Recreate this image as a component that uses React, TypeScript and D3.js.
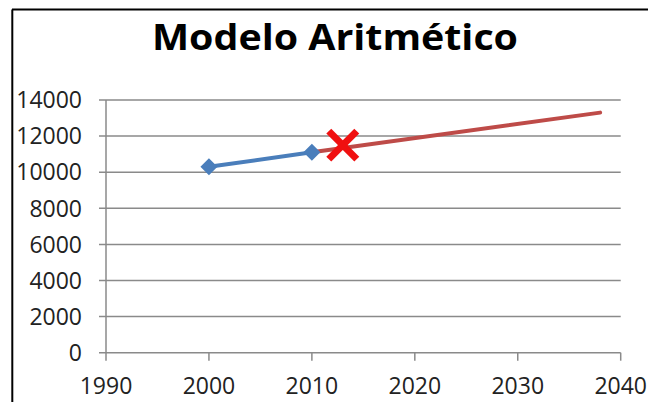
import React from "react";
import * as d3 from "d3";

const title = "Modelo Aritmético";
const xTicks = [1990, 2000, 2010, 2020, 2030, 2040];
const yTicks = [0, 2000, 4000, 6000, 8000, 10000, 12000, 14000];
const censusYears = [2000, 2010];
const censusValues = [10300, 11100];
const projYears = [2010, 2038];
const projValues = [11100, 13300];
const markYear = [2013];
const markValue = [11500];

export default function App() {
  const W = 648, H = 402;
  const x = d3.scaleLinear().domain([1990, 2040]).range([106, 620.7]);
  const y = d3.scaleLinear().domain([0, 14000]).range([352.7, 100]);
  const line = d3.line<[number, number]>().x(d => x(d[0])).y(d => y(d[1]));
  const census = censusYears.map((t, i) => [t, censusValues[i]] as [number, number]);
  const proj = projYears.map((t, i) => [t, projValues[i]] as [number, number]);
  const font = "'Open Sans', sans-serif";
  const grid = "#8a8a8a";
  return (
    <svg width={W} height={H} style={{ position: "absolute", left: 0, top: 0, background: "#fff" }}>
      <rect x={0} y={0} width={W} height={H} fill="#fff" />
      <line x1={12} y1={9.5} x2={W} y2={9.5} stroke="#000" strokeWidth={2} />
      <line x1={12.3} y1={9.5} x2={12.3} y2={H} stroke="#000" strokeWidth={2} />
      <text x={335} y={50} textAnchor="middle" fontFamily={font} fontWeight={700} fontSize={35}
        textLength={366} lengthAdjust="spacingAndGlyphs" fill="#000">{title}</text>
      {yTicks.map(v => (
        <g key={v}>
          <line x1={99} x2={x(2040)} y1={y(v)} y2={y(v)} stroke={grid} strokeWidth={1.5} />
          <text x={82} y={y(v)} dy="0.36em" textAnchor="end" fontFamily={font} fontSize={23} fill="#222">{v}</text>
        </g>
      ))}
      <line x1={x(1990)} x2={x(1990)} y1={y(14000)} y2={y(0)} stroke={grid} strokeWidth={1.5} />
      {xTicks.map(t => (
        <g key={t}>
          <line x1={x(t)} x2={x(t)} y1={y(0)} y2={y(0) + 8} stroke={grid} strokeWidth={1.5} />
          <text x={x(t)} y={394} textAnchor="middle" fontFamily={font} fontSize={23} fill="#222">{t}</text>
        </g>
      ))}
      <path d={line(proj) || ""} fill="none" stroke="#be4b48" strokeWidth={4} strokeLinecap="round" />
      <path d={line(census) || ""} fill="none" stroke="#4a7ebb" strokeWidth={4} />
      {census.map(([t, v]) => {
        const cx = x(t), cy = y(v), r = 8.5;
        return <path key={t} d={`M${cx},${cy - r}L${cx + r},${cy}L${cx},${cy + r}L${cx - r},${cy}Z`} fill="#4a7ebb" />;
      })}
      {markYear.map((t, i) => {
        const cx = x(t), cy = y(markValue[i]), s = 14;
        return (
          <g key={t} stroke="#f01010" strokeWidth={7}>
            <line x1={cx - s} y1={cy - s} x2={cx + s} y2={cy + s} />
            <line x1={cx - s} y1={cy + s} x2={cx + s} y2={cy - s} />
          </g>
        );
      })}
    </svg>
  );
}
